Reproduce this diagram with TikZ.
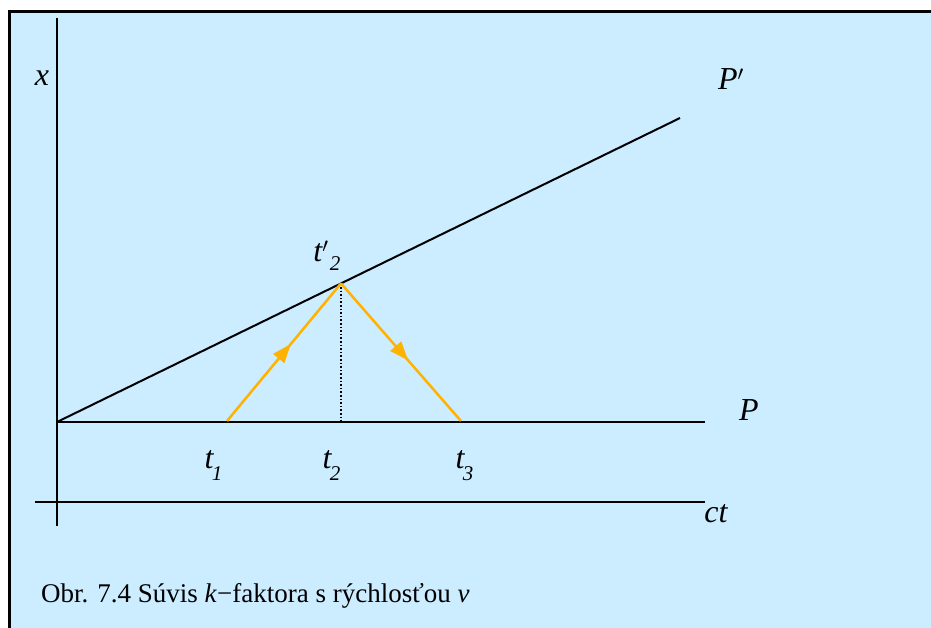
\documentclass[tikz,border=0pt]{standalone}
\usepackage{fontspec}
\setmainfont{Liberation Serif}
\usetikzlibrary{arrows.meta,decorations.markings}
\definecolor{bgblue}{RGB}{204,236,255}
\definecolor{ray}{RGB}{255,178,0}
\tikzset{
  axis/.style={line width=2pt,black},
  lbl/.style={inner sep=0pt,font=\fontsize{32}{36}\selectfont\itshape},
  sub/.style={inner sep=0pt,font=\fontsize{21}{25}\selectfont\itshape},
  rayline/.style={line width=2.5pt,ray,postaction={decorate},
    decoration={markings,mark=at position 0.56 with {\arrow{Triangle[length=19pt,width=14pt]}}}},
}
\begin{document}
\begin{tikzpicture}[x=1pt,y=-1pt]
\useasboundingbox (0,0) rectangle (931,628);
\clip (0,0) rectangle (931,628);
\draw[line width=3pt,fill=bgblue] (9.5,11.5) rectangle (945,645);
% coordinates
\coordinate (O) at (57,422);
\coordinate (vtop) at (57,18);
\coordinate (vbot) at (57,526);
\coordinate (hl) at (35,502);
\coordinate (hr) at (705,502);
\coordinate (Pend) at (705,422);
\coordinate (Ppend) at (680,118);
\coordinate (peak) at (341,283.4);
\coordinate (T2) at (341,422);
\coordinate (A) at (227,421);
\coordinate (B) at (461,421);
% axes and lines
\draw[axis] (vtop) -- (vbot);
\draw[axis] (hl) -- (hr);
\draw[axis] (O) -- (Pend);
\draw[axis] (O) -- (Ppend);
\draw[line width=1.6pt,dotted] (peak) -- (T2);
\draw[rayline,line join=miter] (A) -- (peak);
\draw[rayline] (peak) -- (B);
% labels
\node[lbl] (lx) at (42,78) {x};
\node[lbl] (lPp) at (731,79) {P$'$};
\node[lbl] (lP) at (749,410) {P};
\node[lbl] (lct) at (716,514) {ct};
\node[lbl] (lt2p) at (321,251) {t$'$};
\node[sub] (lt2ps) at (335,264) {2};
\node[lbl] (lt1) at (209,460) {t};
\node[sub] (lt1s) at (217,474) {1};
\node[lbl] (lt2) at (327,460) {t};
\node[sub] (lt2s) at (335,474) {2};
\node[lbl] (lt3) at (460,460) {t};
\node[sub] (lt3s) at (468,474) {3};
\node[anchor=base west,inner sep=0pt,font=\fontsize{27}{32}\selectfont] (cap) at (41,602)
  {Obr. 7.4 Súvis \textit{k}−faktora s rýchlosťou \textit{v}};
\end{tikzpicture}
\end{document}
